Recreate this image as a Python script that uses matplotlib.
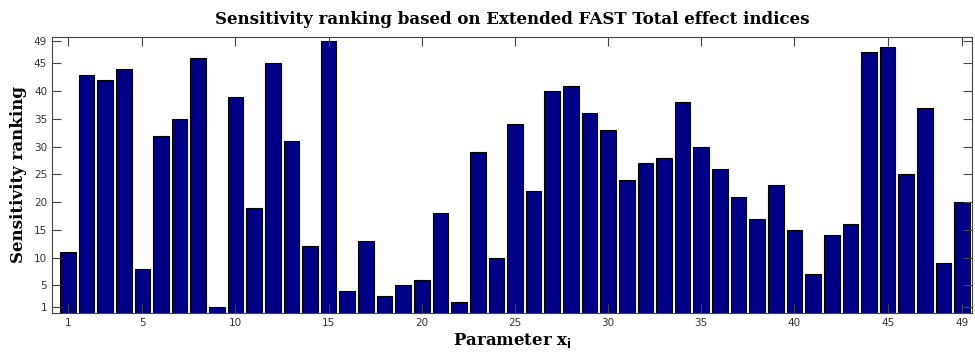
import numpy as np
import matplotlib
matplotlib.use('Agg')
import matplotlib.pyplot as plt

# sensitivity rank of each parameter x_i (1..49)
params = list(range(1, 50))
ranking = [11, 43, 42, 44, 8, 32, 35, 46, 1, 39,
           19, 45, 31, 12, 49, 4, 13, 3, 5, 6,
           18, 2, 29, 10, 34, 22, 40, 41, 36, 33,
           24, 27, 28, 38, 30, 26, 21, 17, 23, 15,
           7, 14, 16, 47, 48, 25, 37, 9, 20]
tick_vals = [1, 5, 10, 15, 20, 25, 30, 35, 40, 45, 49]

BAR_COLOR = '#000086'

fig = plt.figure(figsize=(9.75, 3.6), dpi=100)
ax = fig.add_axes([0.0533, 0.1306, 0.944, 0.767])

ax.bar(params, ranking, width=0.84, color=BAR_COLOR, edgecolor='black', linewidth=0.8)

ax.set_xlim(0.15, 49.55)
ax.set_ylim(0, 49.8)
ax.set_xticks(tick_vals)
ax.set_yticks(tick_vals)
ax.tick_params(direction='in', length=6.5, width=0.8, color='#444444',
               labelsize=7.5, labelcolor='#333333', top=True, right=True,
               labeltop=False, labelright=False)
for s in ax.spines.values():
    s.set_color('#444444')
    s.set_linewidth(0.8)

serif = {'family': 'DejaVu Serif', 'weight': 'bold'}
ax.set_title('Sensitivity ranking based on Extended FAST Total effect indices',
             fontdict=serif, fontsize=12, pad=9.5)
ax.set_ylabel('Sensitivity ranking', fontdict=serif, fontsize=12, labelpad=5)
ax.set_xlabel(r'Parameter x$_{\mathbf{i}}$', fontdict=serif, fontsize=12, labelpad=2)

fig.savefig('out.png', dpi=100)
